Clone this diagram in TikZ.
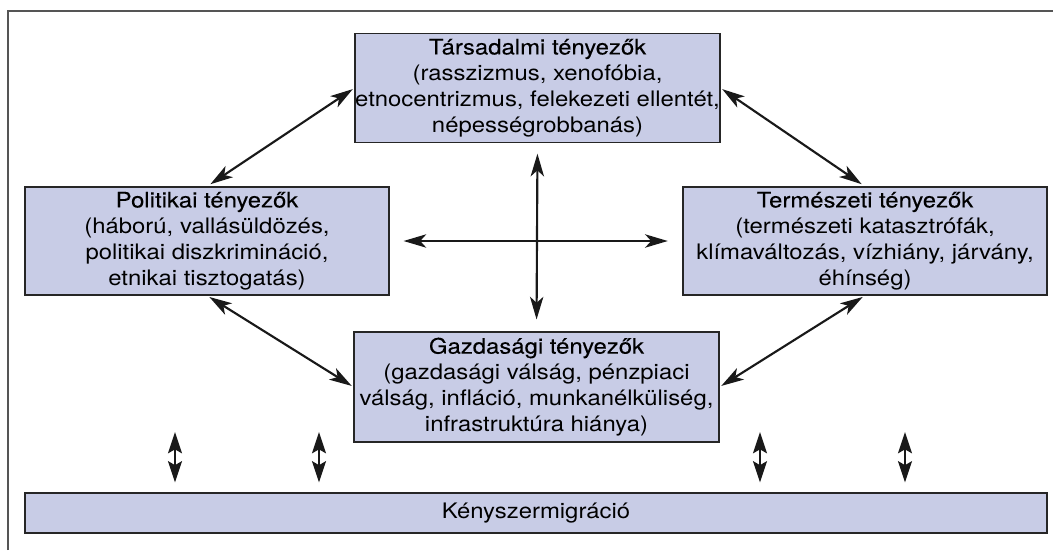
\documentclass[tikz,border=0pt]{standalone}
\usepackage{fontspec}
\setmainfont[FakeStretch=1.12]{TeX Gyre Heros}
\newfontfamily\titlefont[FakeStretch=1.12,FakeBold=0.15]{TeX Gyre Heros}
\usetikzlibrary{arrows.meta}
\definecolor{boxfill}{RGB}{200,204,230}
\definecolor{framegray}{RGB}{85,85,85}
\tikzset{
  factor/.style={draw=black!85,line width=0.8pt,fill=boxfill,align=center,
    inner sep=0pt,font=\fontsize{16}{19.5}\selectfont},
  link/.style={{Stealth[length=17pt,width=10pt,inset=4.5pt]}-{Stealth[length=17pt,width=10pt,inset=4.5pt]},
    line width=1.6pt,black!90},
  pipe/.style={{Stealth[length=16pt,width=10.5pt,inset=3pt]}-{Stealth[length=16pt,width=10.5pt,inset=3pt]},
    line width=1.2pt,black!90}
}
\begin{document}
\begin{tikzpicture}[x=0.75pt,y=-0.75pt]
    \useasboundingbox (0,0) rectangle (1053,550);
    \draw[framegray,line width=1.3pt] (8,550) -- (8,11) -- (1053,11);
    % the four groups of causes
    \node[factor,minimum width=273.75pt,minimum height=81.75pt] (tars) at (537.5,88)
      {{\titlefont Társadalmi tényezők}\\(rasszizmus, xenofóbia,\\etnocentrizmus, felekezeti ellentét,\\népességrobbanás)};
    \node[factor,minimum width=273pt,minimum height=81pt] (poli) at (207,241)
      {{\titlefont Politikai tényezők}\\(háború, vallásüldözés,\\politikai diszkrimináció,\\etnikai tisztogatás)};
    \node[factor,minimum width=273pt,minimum height=81pt] (term) at (865,241)
      {{\titlefont Természeti tényezők}\\(természeti katasztrófák,\\klímaváltozás, vízhiány, járvány,\\éhínség)};
    \node[factor,minimum width=273.75pt,minimum height=82.5pt] (gazd) at (536.5,387)
      {{\titlefont Gazdasági tényezők}\\(gazdasági válság, pénzpiaci\\válság, infláció, munkanélküliség,\\infrastruktúra hiánya)};
    \node[factor,minimum width=766.5pt,minimum height=30pt] (kenysz) at (536,513)
      {Kényszermigráció};
    % links between them
    \draw[link,shorten <=3pt,shorten >=1.5pt] (poli.north) -- (tars.west);
    \draw[link,shorten <=1.5pt,shorten >=3pt] (tars.east) -- (term.north);
    \draw[link,shorten <=2pt,shorten >=1.5pt] (poli.south) -- (gazd.west);
    \draw[link,shorten <=1.5pt,shorten >=2pt] (gazd.east) -- (term.south);
    \draw[link,shorten <=10.5pt,shorten >=11pt] (poli.east) -- (term.west);
    \draw[link,shorten <=8pt,shorten >=9pt] (tars.south) -- (gazd.north);
    % small arrows down to the migration bar
    \foreach \x [count=\i] in {175,319,760,905} {
      \coordinate (up\i) at (\x,432);
      \draw[pipe,shorten >=7.5pt] (up\i) -- (up\i |- kenysz.north);
    }
\end{tikzpicture}
\end{document}
